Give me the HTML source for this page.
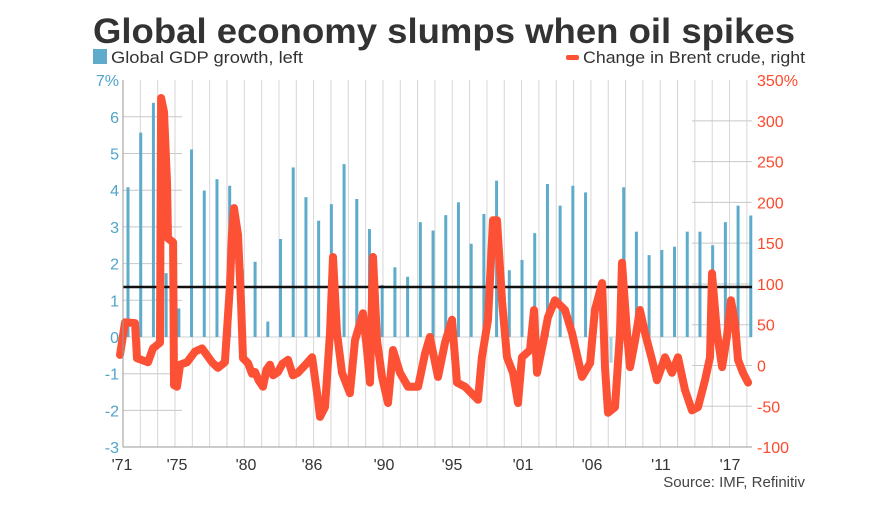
<!DOCTYPE html>
<html><head><meta charset="utf-8"><style>
body{margin:0;background:#fff;}
svg text{font-family:"Liberation Sans",sans-serif;}
</style></head><body>
<svg width="890" height="501" viewBox="0 0 890 501">
<text x="93" y="43" font-size="35" font-weight="bold" fill="#333" textLength="702" lengthAdjust="spacingAndGlyphs">Global economy slumps when oil spikes</text>
<rect x="93" y="49" width="14" height="15" fill="#5eabcc"/>
<text x="111" y="63" font-size="17" fill="#333" textLength="192" lengthAdjust="spacingAndGlyphs">Global GDP growth, left</text>
<rect x="566" y="55" width="13" height="5" rx="2" fill="#fd5136"/>
<text x="583" y="63" font-size="17" fill="#333" textLength="222" lengthAdjust="spacingAndGlyphs">Change in Brent crude, right</text>
<g id="grid"></g>
<g id="bars"></g>
<line x1="123" y1="287" x2="752" y2="287" stroke="#111" stroke-width="2.5"/>
<path id="oil" fill="none" stroke="#fd5136" stroke-width="8" stroke-linejoin="round" stroke-linecap="round"/>
<g id="axes"></g>
<text x="805" y="487" font-size="15" fill="#444" text-anchor="end">Source: IMF, Refinitiv</text>
</svg>
<script>
const gdpValues=[4.08,5.57,6.38,1.74,0.78,5.11,3.99,4.30,4.12,1.83,2.05,0.42,2.67,4.62,3.81,3.17,3.62,4.71,3.76,2.94,1.42,1.90,1.64,3.13,2.90,3.32,3.67,2.54,3.35,4.26,1.82,2.10,2.83,4.17,3.58,4.12,3.94,0,-0.7,4.08,2.87,2.23,2.37,2.46,2.87,2.87,2.5,3.13,3.58,3.31];
const oilDates=[1971.00,1971.38,1972.14,1972.29,1973.12,1973.50,1974.03,1974.11,1974.33,1974.56,1974.64,1975.02,1975.09,1975.32,1975.55,1976.08,1976.68,1977.21,1977.97,1978.42,1978.95,1979.33,1979.48,1979.64,1979.94,1980.17,1980.32,1980.70,1981.00,1981.23,1981.50,1981.83,1982.10,1982.36,1982.60,1982.97,1983.30,1983.73,1984.10,1984.48,1985.00,1985.55,1986.00,1986.15,1986.53,1986.91,1987.14,1987.44,1987.82,1988.42,1988.80,1989.41,1989.71,1989.94,1990.17,1990.47,1990.85,1991.30,1991.68,1992.21,1992.82,1993.58,1994.11,1994.48,1995.09,1995.62,1996.15,1996.53,1997.14,1998.12,1998.42,1998.88,1999.26,1999.56,1999.94,2000.32,2000.77,2001.15,2001.45,2002.06,2002.36,2002.59,2003.05,2003.42,2003.95,2004.71,2005.24,2006.00,2006.61,2006.98,2007.52,2007.74,2007.97,2008.50,2008.88,2009.03,2009.41,2009.64,2010.02,2010.39,2010.77,2011.30,2011.68,2012.29,2012.82,2013.27,2013.80,2014.33,2014.79,2015.32,2015.70,2015.85,2016.23,2016.61,2016.98,2017.29,2017.59,2017.82,2018.20,2018.58];
const oilValues=[13,53,52,9,4,21,28,328,311,225,156,151,-24,-26,1,4,17,21,4,-3,4,99,160,193,160,78,9,3,-10,-8,-18,-26,-5,1,-12,-8,2,7,-12,-9,0,10,-42,-63,-51,40,133,40,-9,-34,31,64,19,-21,133,31,-14,-46,19,-9,-26,-26,15,35,-14,28,56,-21,-26,-42,10,56,178,178,80,10,-9,-46,10,19,68,-9,28,59,80,68,40,-14,3,68,101,-2,-58,-51,40,126,40,-2,31,68,40,7,-18,10,-9,10,-30,-55,-51,-18,10,113,40,-2,35,80,52,7,-9,-21];
const leftTicks=["7%","6","5","4","3","2","1","0","-1","-2","-3"];
const rightTicks=["350%","300","250","200","150","100","50","0","-50","-100"];
const xLabels=["'71","'75","'80","'86","'90","'95","'01","'06","'11","'17"];
const xLabelYears=[1971,1975,1980,1986,1990,1995,2001,2006,2011,2017];
const NS="http://www.w3.org/2000/svg";
const yL=v=>337-v*36.7;
const yR=v=>365.5-v*0.8156;
const xBar=i=>128+i*12.71;
const xT=t=>120+(t-1971)*13.2;
const xLab=t=>({1971:122,1975:177,1980:246,1986:312,1990:384,1995:452,2001:523,2006:592,2011:661,2017:730})[t];
function mk(tag,attrs,parent){const e=document.createElementNS(NS,tag);for(const k in attrs)e.setAttribute(k,attrs[k]);parent.appendChild(e);return e;}
const grid=document.getElementById('grid');
for(let i=0;i<37;i++){const x=123+i*17.33;const l=mk('line',{x1:x,x2:x,y1:80,y2:447,stroke:'#d6d6d6','stroke-width':1},grid);

}
for(let v=-2;v<=6;v++){const l=mk('line',{x1:123,x2:182,y1:yL(v),y2:yL(v),stroke:'#c8c8c8','stroke-width':1},grid);

}
for(let v=-50;v<=300;v+=50){const l=mk('line',{x1:692,x2:752,y1:yR(v),y2:yR(v),stroke:'#c8c8c8','stroke-width':1},grid);

}
const zl=mk('line',{x1:123,x2:752,y1:yL(0),y2:yL(0),stroke:'#d0d0d0','stroke-width':1},grid);


const bars=document.getElementById('bars');
gdpValues.forEach((v,i)=>{const y0=yL(0),y1=yL(v);
const r=mk('rect',{x:xBar(i)-1.5,y:Math.min(y0,y1),width:3,height:Math.abs(y1-y0),fill:v<0?'#a9d3e6':'#5eabcc'},bars);

});
let d='';oilDates.forEach((t,i)=>{d+=(i?'L':'M')+xT(t).toFixed(1)+','+yR(oilValues[i]).toFixed(1);});
document.getElementById('oil').setAttribute('d',d);
const ax=document.getElementById('axes');
const a1=mk('line',{x1:123,x2:123,y1:80,y2:447,stroke:'#999','stroke-width':1},ax);


const a2=mk('line',{x1:123,x2:752,y1:447,y2:447,stroke:'#999','stroke-width':1},ax);


leftTicks.forEach((s,i)=>{const t=mk('text',{x:119,y:yL(7-i)+6,'font-size':16,fill:'#4ea4c9','text-anchor':'end'},ax);t.textContent=s;

});
rightTicks.forEach((s,i)=>{const t=mk('text',{x:757,y:yR(350-i*50)+6,'font-size':16,fill:'#fd4a2c'},ax);t.textContent=s;

});
xLabels.forEach((s,i)=>{const t=mk('text',{x:xLab(xLabelYears[i]),y:470,'font-size':16,fill:'#333','text-anchor':'middle'},ax);t.textContent=s;

});
</script>
</body></html>
